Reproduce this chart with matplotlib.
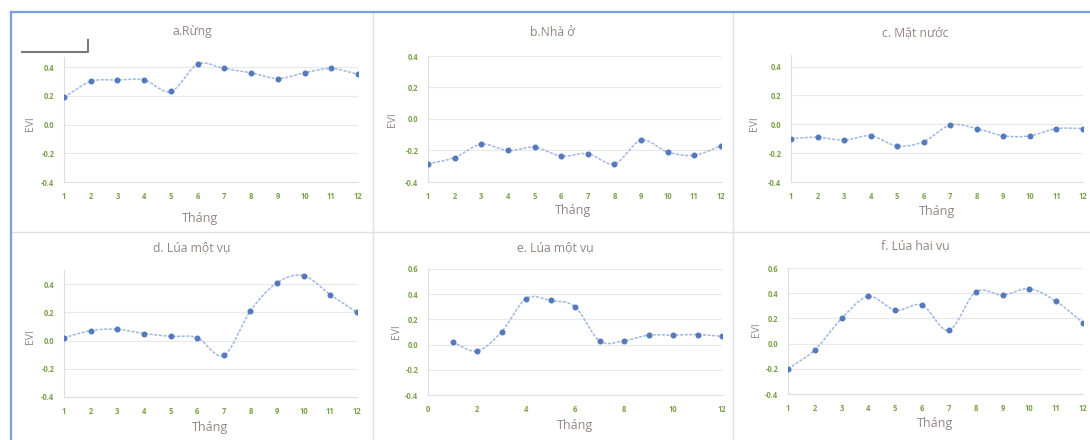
"""
EVI theo tháng cho 6 loại phủ bề mặt (Rừng, Nhà ở, Mặt nước, Lúa).
"""
import numpy as np
import matplotlib
matplotlib.use("Agg")
import matplotlib.pyplot as plt
from matplotlib.lines import Line2D

plt.rcParams["font.family"] = ["Open Sans", "DejaVu Sans"]

W, H = 1090, 440

months = [1, 2, 3, 4, 5, 6, 7, 8, 9, 10, 11, 12]

titles = ["a.Rừng", "b.Nhà ở", "c. Mặt nước",
          "d. Lúa một vụ", "e. Lúa một vụ", "f. Lúa hai vụ"]

evi_rung = [0.19, 0.30, 0.31, 0.31, 0.23, 0.42, 0.39, 0.36, 0.32, 0.36, 0.39, 0.35]
evi_nha_o = [-0.285, -0.245, -0.16, -0.20, -0.18, -0.235, -0.22, -0.285, -0.135, -0.21, -0.23, -0.17]
evi_mat_nuoc = [-0.10, -0.09, -0.11, -0.08, -0.15, -0.12, -0.005, -0.03, -0.08, -0.08, -0.03, -0.03]
evi_lua_mot_vu_d = [0.02, 0.07, 0.08, 0.05, 0.03, 0.02, -0.105, 0.21, 0.41, 0.46, 0.325, 0.20]
evi_lua_mot_vu_e = [0.02, -0.05, 0.10, 0.365, 0.35, 0.30, 0.03, 0.03, 0.075, 0.075, 0.08, 0.065]
evi_lua_hai_vu = [-0.20, -0.05, 0.20, 0.375, 0.265, 0.305, 0.105, 0.41, 0.385, 0.435, 0.335, 0.165]

series = [evi_rung, evi_nha_o, evi_mat_nuoc,
          evi_lua_mot_vu_d, evi_lua_mot_vu_e, evi_lua_hai_vu]

y_ticks_4 = [-0.4, -0.2, 0.0, 0.2, 0.4]
y_ticks_6 = [-0.4, -0.2, 0.0, 0.2, 0.4, 0.6]

# khung từng ô: (trái, phải, trên, dưới) tính theo pixel, ylim, yticks, xlim, xticks
panels = [
    ((64, 358, 57, 182), (-0.4, 0.47), y_ticks_4, (1, 12), months),
    ((428, 721, 56, 182), (-0.4, 0.4), y_ticks_4, (1, 12), months),
    ((791, 1083, 55, 182), (-0.4, 0.48), y_ticks_4, (1, 12), months),
    ((64, 357, 270, 397), (-0.4, 0.5), y_ticks_4, (1, 12), months),
    ((428, 722, 269, 395), (-0.4, 0.6), y_ticks_6, (0, 12), [0, 2, 4, 6, 8, 10, 12]),
    ((788, 1083, 268, 394), (-0.4, 0.6), y_ticks_6, (1, 12), months),
]
title_pos = [(192, 32), (552, 33), (915, 33), (192, 248), (555, 248), (915, 246)]
xlabel_pos = [(200, 218), (573, 210), (937, 211), (210, 427), (575, 425), (935, 423)]
ylabel_pos = [(30, 124), (393, 120), (755, 124), (30, 337), (397, 332), (757, 330)]

TXT = "#948684"
TICK = "#7ba24a"
GRID = "#e8e8e8"
MARK = "#5479bd"
LINE = "#9fb7e2"


def smooth(x, y, n=20):
    """Đường cong trơn kiểu Excel (Catmull-Rom) qua các điểm"""
    x = np.asarray(x, float)
    y = np.asarray(y, float)
    px = np.concatenate([[2 * x[0] - x[1]], x, [2 * x[-1] - x[-2]]])
    py = np.concatenate([[2 * y[0] - y[1]], y, [2 * y[-1] - y[-2]]])
    xs, ys = [], []
    t = np.linspace(0, 1, n, endpoint=False)
    for i in range(1, len(px) - 2):
        p0, p1, p2, p3 = px[i - 1], px[i], px[i + 1], px[i + 2]
        q0, q1, q2, q3 = py[i - 1], py[i], py[i + 1], py[i + 2]
        b0 = p1; b1 = p1 + (p2 - p0) / 6; b2 = p2 - (p3 - p1) / 6; b3 = p2
        c0 = q1; c1 = q1 + (q2 - q0) / 6; c2 = q2 - (q3 - q1) / 6; c3 = q2
        bx = (1 - t) ** 3 * b0 + 3 * (1 - t) ** 2 * t * b1 + 3 * (1 - t) * t ** 2 * b2 + t ** 3 * b3
        by = (1 - t) ** 3 * c0 + 3 * (1 - t) ** 2 * t * c1 + 3 * (1 - t) * t ** 2 * c2 + t ** 3 * c3
        xs.extend(bx); ys.extend(by)
    xs.append(x[-1]); ys.append(y[-1])
    return np.array(xs), np.array(ys)


fig = plt.figure(figsize=(W / 100, H / 100), dpi=100)
fig.patch.set_facecolor("white")

# đường chia ô và khung xanh
for xx in (373, 733):
    fig.add_artist(Line2D([xx / W, xx / W], [0, 1 - 12 / H], color="#e0e0e0", lw=1))
fig.add_artist(Line2D([11 / W, 1], [1 - 232 / H] * 2, color="#e0e0e0", lw=1))
fig.add_artist(Line2D([11 / W, 11 / W], [0, 1 - 12 / H], color="#7aa0da", lw=1.6))
fig.add_artist(Line2D([11 / W, 1], [1 - 12 / H] * 2, color="#7aa0da", lw=1.6))
# nét gãy lạ ở góc trên trái
fig.add_artist(Line2D([22 / W, 88 / W, 88 / W], [1 - 52 / H, 1 - 52 / H, 1 - 40 / H],
                      color="#7a7a7a", lw=1.5))

for k, (box, ylim, yt, xlim, xt) in enumerate(panels):
    l, r, t, b = box
    ax = fig.add_axes([l / W, 1 - b / H, (r - l) / W, (b - t) / H])
    ax.set_facecolor("none")
    sx, sy = smooth(months, series[k])
    ax.plot(sx, sy, color=LINE, lw=1.1, ls=(0, (2, 1)), zorder=2)
    ax.plot(months, series[k], "o", color=MARK, ms=3.3, zorder=3)
    ax.set_xlim(*xlim)
    ax.set_ylim(*ylim)
    ax.set_xticks(xt)
    ax.set_yticks(yt)
    ax.set_yticklabels([f"{v:.1f}" for v in yt])
    ax.grid(axis="y", color=GRID, lw=0.8)
    ax.set_axisbelow(True)
    for s in ("top", "right"):
        ax.spines[s].set_visible(False)
    for s in ("left", "bottom"):
        ax.spines[s].set_color("#dedede")
        ax.spines[s].set_linewidth(0.8)
    ax.tick_params(length=0, labelsize=5.5, labelcolor=TICK, pad=7)
    for lab in ax.get_xticklabels() + ax.get_yticklabels():
        lab.set_fontweight("bold")
    ax.margins(0)

    tx, ty = title_pos[k]
    fig.text(tx / W, 1 - ty / H, titles[k], ha="center", va="center", fontsize=8.8, color=TXT)
    lx, ly = xlabel_pos[k]
    fig.text(lx / W, 1 - ly / H, "Tháng", ha="center", va="center", fontsize=9, color=TXT)
    ex, ey = ylabel_pos[k]
    fig.text(ex / W, 1 - ey / H, "EVI", ha="center", va="center", fontsize=7.5,
             color=TXT, rotation=90)

fig.savefig("out.png", dpi=100)
